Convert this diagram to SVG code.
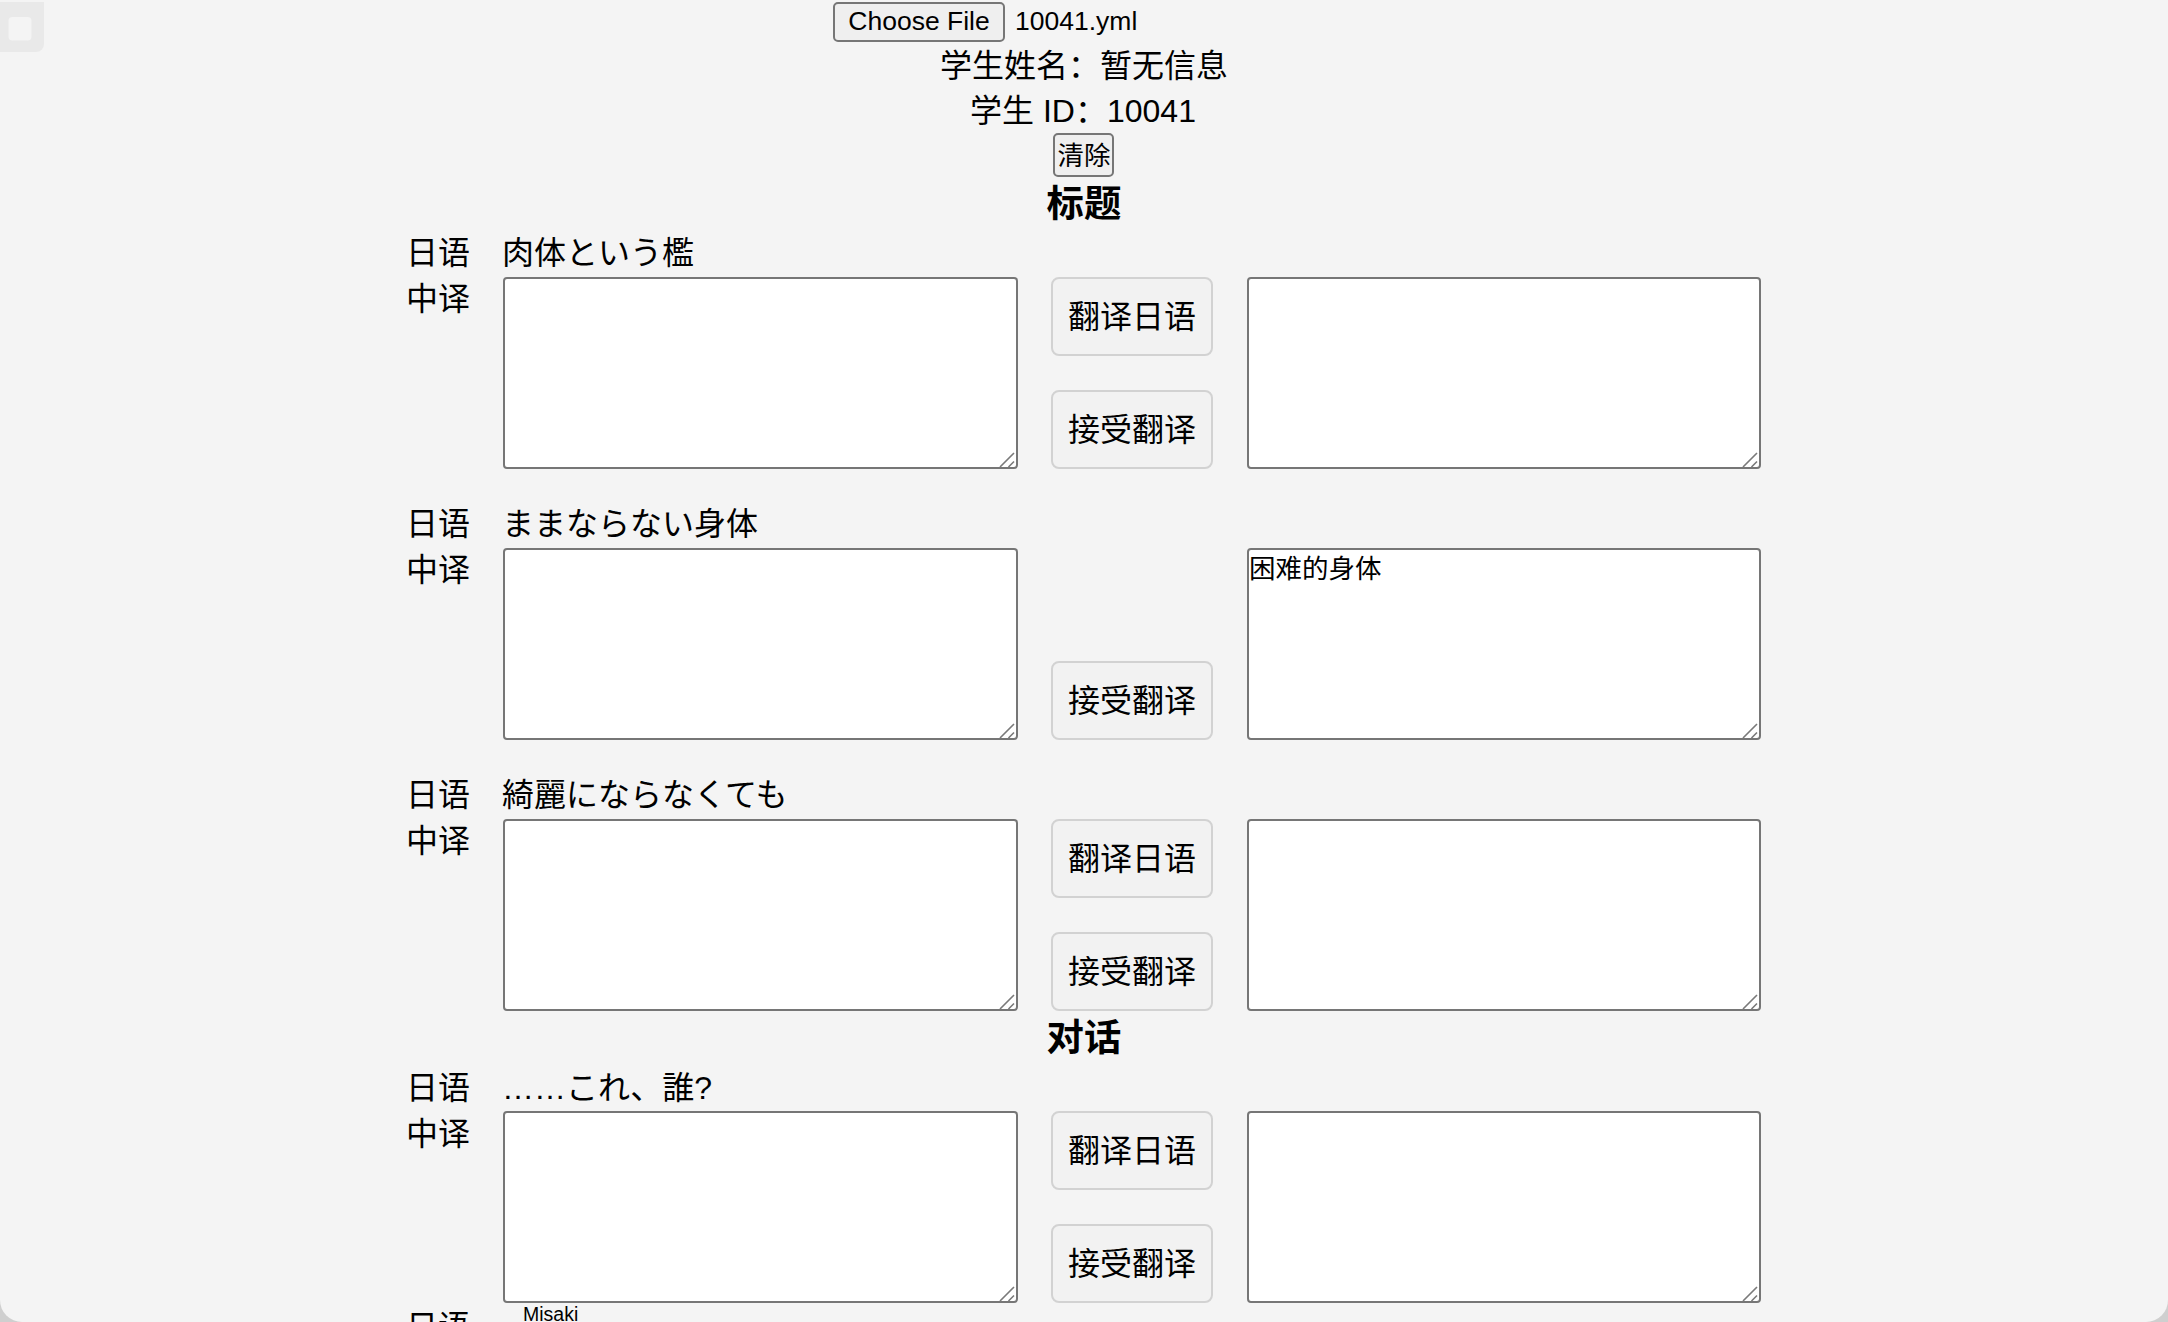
<svg xmlns="http://www.w3.org/2000/svg" xmlns:xlink="http://www.w3.org/1999/xlink" width="2168" height="1322" viewBox="0 0 2168 1322">
<style>
text{fill:#000;font-family:"Liberation Sans","Noto Sans CJK SC",sans-serif}
.lbl{font-size:32px}
.jp{font-size:32px;font-family:"Liberation Sans","Noto Sans CJK JP",sans-serif}
.bt{font-size:32px;text-anchor:middle}
.sm{font-size:26.5px}
.mid{text-anchor:middle}
.h{font-size:37.4px;font-weight:bold;text-anchor:middle}
.ta{fill:#fff;stroke:#767676;stroke-width:2}
.btn{fill:#f2f2f2;stroke:#d2d2d2;stroke-width:2}
.nb{fill:#efefef;stroke:#767676;stroke-width:2}
.grip{stroke:#7a7a7a;stroke-width:1.6;fill:none}
</style>
<defs>
<path id="grip" class="grip" d="M-18,-2 L-4,-16 M-9.5,-2 L-4,-7.5"/>
</defs>
<rect x="0" y="0" width="2168" height="1322" fill="#cfcfcf"/>
<path d="M0,0 H2168 V1300 A22,22 0 0 1 2146,1322 H22 A22,22 0 0 1 0,1300 Z" fill="#f4f4f4"/>
<g id="sidebar-tab">
<path d="M0,2 H44 V44 A8,8 0 0 1 36,52 H0 Z" fill="#e9e9e9"/>
<rect x="8.5" y="17" width="23" height="23.5" rx="4" fill="#f4f4f4"/>
</g>
<g id="file-input">
<rect class="nb" x="834" y="3" width="170" height="38" rx="4"/>
<text class="sm mid" x="919" y="29.5">Choose File</text>
<text class="sm" x="1015" y="29.5">10041.yml</text>
</g>
<g id="student-info">
<text class="lbl mid" x="1084" y="77">学生姓名：暂无信息</text>
<text class="lbl mid" x="1083" y="122">学生 ID：10041</text>
</g>
<g id="clear-button">
<rect class="nb" x="1054" y="134" width="59" height="42" rx="4"/>
<text class="sm mid" x="1084" y="165">清除</text>
</g>
<g id="heading-title"><text class="h" x="1084" y="217">标题</text></g>
<g id="row1">
<text class="lbl" x="406" y="264">日语</text>
<text class="jp" x="502" y="264">肉体という檻</text>
<text class="lbl" x="406" y="310">中译</text>
<rect class="ta" x="504" y="278" width="513" height="190" rx="3"/>
<use xlink:href="#grip" x="1018" y="469"/>
<rect class="btn" x="1052" y="278" width="160" height="77" rx="7"/>
<text class="bt" x="1132" y="328">翻译日语</text>
<rect class="btn" x="1052" y="391" width="160" height="77" rx="7"/>
<text class="bt" x="1132" y="441">接受翻译</text>
<rect class="ta" x="1248" y="278" width="512" height="190" rx="3"/>
<use xlink:href="#grip" x="1761" y="469"/>
</g>
<g id="row2">
<text class="lbl" x="406" y="535">日语</text>
<text class="jp" x="502" y="535">ままならない身体</text>
<text class="lbl" x="406" y="581">中译</text>
<rect class="ta" x="504" y="549" width="513" height="190" rx="3"/>
<use xlink:href="#grip" x="1018" y="740"/>
<rect class="btn" x="1052" y="662" width="160" height="77" rx="7"/>
<text class="bt" x="1132" y="712">接受翻译</text>
<rect class="ta" x="1248" y="549" width="512" height="190" rx="3"/>
<use xlink:href="#grip" x="1761" y="740"/>
<text class="sm" x="1249" y="578">困难的身体</text>
</g>
<g id="row3">
<text class="lbl" x="406" y="806">日语</text>
<text class="jp" x="502" y="806">綺麗にならなくても</text>
<text class="lbl" x="406" y="852">中译</text>
<rect class="ta" x="504" y="820" width="513" height="190" rx="3"/>
<use xlink:href="#grip" x="1018" y="1011"/>
<rect class="btn" x="1052" y="820" width="160" height="77" rx="7"/>
<text class="bt" x="1132" y="870">翻译日语</text>
<rect class="btn" x="1052" y="933" width="160" height="77" rx="7"/>
<text class="bt" x="1132" y="983">接受翻译</text>
<rect class="ta" x="1248" y="820" width="512" height="190" rx="3"/>
<use xlink:href="#grip" x="1761" y="1011"/>
</g>
<g id="heading-dialog"><text class="h" x="1084" y="1051">对话</text></g>
<g id="row4">
<text class="lbl" x="406" y="1099">日语</text>
<text class="jp" x="502" y="1099">……これ、誰?</text>
<text class="lbl" x="406" y="1145">中译</text>
<rect class="ta" x="504" y="1112" width="513" height="190" rx="3"/>
<use xlink:href="#grip" x="1018" y="1303"/>
<rect class="btn" x="1052" y="1112" width="160" height="77" rx="7"/>
<text class="bt" x="1132" y="1162">翻译日语</text>
<rect class="btn" x="1052" y="1225" width="160" height="77" rx="7"/>
<text class="bt" x="1132" y="1275">接受翻译</text>
<rect class="ta" x="1248" y="1112" width="512" height="190" rx="3"/>
<use xlink:href="#grip" x="1761" y="1303"/>
</g>
<g id="row5">
<text class="lbl" x="406" y="1338">日语</text>
<text x="523" y="1321" font-size="19.5">Misaki</text>
</g>
</svg>
